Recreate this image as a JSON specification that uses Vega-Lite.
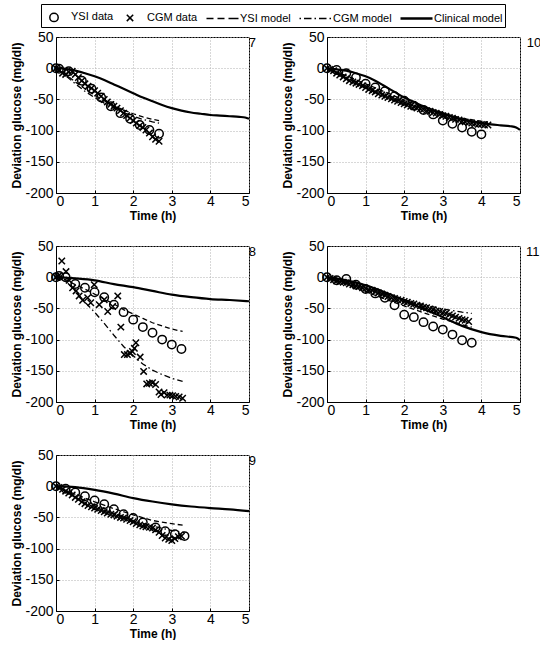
{
  "$schema": "https://vega.github.io/schema/vega-lite/v6.json",
  "padding": {"left": 10, "top": 3, "right": 0, "bottom": 0},
  "bounds": "flush",
  "columns": 2,
  "spacing": {"row": 53, "column": 78},
  "config": {
    "font": "Liberation Sans",
    "view": {"stroke": "black", "strokeWidth": 1},
    "axis": {
      "labelFontSize": 14, "labelColor": "black", "titleFontSize": 12, "titleFontWeight": "bold", "titleColor": "black",
      "gridColor": "#b0b0b0", "gridDash": [1, 2], "gridOpacity": 1, "domainColor": "black", "ticks": true, "tickSize": -3, "tickColor": "black", "labelPadding": 6,
      "labelFont": "Liberation Sans", "titleFont": "Liberation Sans", "labelOverlap": false, "labelBound": false
    },
    "axisY": {"titlePadding": 1},
    "axisX": {"titlePadding": 2, "labelPadding": 4},
    "point": {"opacity": 1},
    "title": {"font": "Liberation Sans", "fontSize": 13, "fontWeight": "normal", "color": "black"}
  },
  "datasets": {
    "d": [
      {"p":"7","s":"YSI data","t":0,"g":0},{"p":"7","s":"YSI data","t":0.08,"g":-1},{"p":"7","s":"YSI data","t":0.33,"g":-5},{"p":"7","s":"YSI data","t":0.67,"g":-20},{"p":"7","s":"YSI data","t":0.92,"g":-33},{"p":"7","s":"YSI data","t":1.17,"g":-47},{"p":"7","s":"YSI data","t":1.42,"g":-61},{"p":"7","s":"YSI data","t":1.67,"g":-72},{"p":"7","s":"YSI data","t":1.92,"g":-81},{"p":"7","s":"YSI data","t":2.17,"g":-91},{"p":"7","s":"YSI data","t":2.42,"g":-99},{"p":"7","s":"YSI data","t":2.67,"g":-105},
      {"p":"7","s":"CGM data","t":0,"g":0},{"p":"7","s":"CGM data","t":0.08,"g":-3},{"p":"7","s":"CGM data","t":0.17,"g":-8},{"p":"7","s":"CGM data","t":0.25,"g":-10},{"p":"7","s":"CGM data","t":0.33,"g":-6},{"p":"7","s":"CGM data","t":0.42,"g":-5},{"p":"7","s":"CGM data","t":0.5,"g":-10},{"p":"7","s":"CGM data","t":0.58,"g":-15},{"p":"7","s":"CGM data","t":0.67,"g":-20},{"p":"7","s":"CGM data","t":0.75,"g":-25},{"p":"7","s":"CGM data","t":0.83,"g":-29},{"p":"7","s":"CGM data","t":0.92,"g":-32},{"p":"7","s":"CGM data","t":1.0,"g":-36},{"p":"7","s":"CGM data","t":1.08,"g":-40},{"p":"7","s":"CGM data","t":1.17,"g":-45},{"p":"7","s":"CGM data","t":1.25,"g":-50},{"p":"7","s":"CGM data","t":1.33,"g":-54},{"p":"7","s":"CGM data","t":1.42,"g":-58},{"p":"7","s":"CGM data","t":1.5,"g":-61},{"p":"7","s":"CGM data","t":1.58,"g":-64},{"p":"7","s":"CGM data","t":1.67,"g":-68},{"p":"7","s":"CGM data","t":1.75,"g":-72},{"p":"7","s":"CGM data","t":1.83,"g":-76},{"p":"7","s":"CGM data","t":1.92,"g":-80},{"p":"7","s":"CGM data","t":2.0,"g":-84},{"p":"7","s":"CGM data","t":2.08,"g":-88},{"p":"7","s":"CGM data","t":2.17,"g":-92},{"p":"7","s":"CGM data","t":2.25,"g":-95},{"p":"7","s":"CGM data","t":2.33,"g":-99},{"p":"7","s":"CGM data","t":2.42,"g":-104},{"p":"7","s":"CGM data","t":2.5,"g":-110},{"p":"7","s":"CGM data","t":2.58,"g":-114},{"p":"7","s":"CGM data","t":2.67,"g":-117},
      {"p":"7","s":"YSI model","t":0,"g":0},{"p":"7","s":"YSI model","t":0.25,"g":-10},{"p":"7","s":"YSI model","t":0.5,"g":-22},{"p":"7","s":"YSI model","t":0.75,"g":-33},{"p":"7","s":"YSI model","t":1.0,"g":-43},{"p":"7","s":"YSI model","t":1.25,"g":-52},{"p":"7","s":"YSI model","t":1.5,"g":-60},{"p":"7","s":"YSI model","t":1.75,"g":-67},{"p":"7","s":"YSI model","t":2.0,"g":-73},{"p":"7","s":"YSI model","t":2.25,"g":-78},{"p":"7","s":"YSI model","t":2.5,"g":-82},{"p":"7","s":"YSI model","t":2.67,"g":-84},
      {"p":"7","s":"CGM model","t":0,"g":0},{"p":"7","s":"CGM model","t":0.25,"g":-12},{"p":"7","s":"CGM model","t":0.5,"g":-25},{"p":"7","s":"CGM model","t":0.75,"g":-37},{"p":"7","s":"CGM model","t":1.0,"g":-47},{"p":"7","s":"CGM model","t":1.25,"g":-56},{"p":"7","s":"CGM model","t":1.5,"g":-64},{"p":"7","s":"CGM model","t":1.75,"g":-71},{"p":"7","s":"CGM model","t":2.0,"g":-77},{"p":"7","s":"CGM model","t":2.25,"g":-82},{"p":"7","s":"CGM model","t":2.5,"g":-86},{"p":"7","s":"CGM model","t":2.67,"g":-88},
      {"p":"7","s":"Clinical model","t":0,"g":0},{"p":"7","s":"Clinical model","t":0.25,"g":-1},{"p":"7","s":"Clinical model","t":0.5,"g":-4},{"p":"7","s":"Clinical model","t":0.75,"g":-8},{"p":"7","s":"Clinical model","t":1.0,"g":-13},{"p":"7","s":"Clinical model","t":1.25,"g":-19},{"p":"7","s":"Clinical model","t":1.5,"g":-26},{"p":"7","s":"Clinical model","t":1.75,"g":-33},{"p":"7","s":"Clinical model","t":2.0,"g":-40},{"p":"7","s":"Clinical model","t":2.25,"g":-47},{"p":"7","s":"Clinical model","t":2.5,"g":-53},{"p":"7","s":"Clinical model","t":2.75,"g":-59},{"p":"7","s":"Clinical model","t":3.0,"g":-64},{"p":"7","s":"Clinical model","t":3.25,"g":-68},{"p":"7","s":"Clinical model","t":3.5,"g":-71},{"p":"7","s":"Clinical model","t":3.75,"g":-73},{"p":"7","s":"Clinical model","t":4.0,"g":-75},{"p":"7","s":"Clinical model","t":4.25,"g":-76},{"p":"7","s":"Clinical model","t":4.5,"g":-77},{"p":"7","s":"Clinical model","t":4.75,"g":-78},{"p":"7","s":"Clinical model","t":4.9,"g":-79},{"p":"7","s":"Clinical model","t":5.0,"g":-81},

      {"p":"10","s":"YSI data","t":0,"g":0},{"p":"10","s":"YSI data","t":0.25,"g":-3},{"p":"10","s":"YSI data","t":0.5,"g":-8},{"p":"10","s":"YSI data","t":0.75,"g":-15},{"p":"10","s":"YSI data","t":1.0,"g":-25},{"p":"10","s":"YSI data","t":1.25,"g":-31},{"p":"10","s":"YSI data","t":1.5,"g":-37},{"p":"10","s":"YSI data","t":1.75,"g":-45},{"p":"10","s":"YSI data","t":2.0,"g":-52},{"p":"10","s":"YSI data","t":2.25,"g":-60},{"p":"10","s":"YSI data","t":2.5,"g":-67},{"p":"10","s":"YSI data","t":2.75,"g":-74},{"p":"10","s":"YSI data","t":3.0,"g":-84},{"p":"10","s":"YSI data","t":3.25,"g":-89},{"p":"10","s":"YSI data","t":3.5,"g":-95},{"p":"10","s":"YSI data","t":3.75,"g":-102},{"p":"10","s":"YSI data","t":4.0,"g":-106},
      {"p":"10","s":"CGM data","t":0,"g":0},{"p":"10","s":"CGM data","t":0.08,"g":-2},{"p":"10","s":"CGM data","t":0.17,"g":-4},{"p":"10","s":"CGM data","t":0.25,"g":-8},{"p":"10","s":"CGM data","t":0.33,"g":-11},{"p":"10","s":"CGM data","t":0.42,"g":-14},{"p":"10","s":"CGM data","t":0.5,"g":-17},{"p":"10","s":"CGM data","t":0.58,"g":-20},{"p":"10","s":"CGM data","t":0.67,"g":-22},{"p":"10","s":"CGM data","t":0.75,"g":-24},{"p":"10","s":"CGM data","t":0.83,"g":-26},{"p":"10","s":"CGM data","t":0.92,"g":-28},{"p":"10","s":"CGM data","t":1.0,"g":-31},{"p":"10","s":"CGM data","t":1.08,"g":-34},{"p":"10","s":"CGM data","t":1.17,"g":-36},{"p":"10","s":"CGM data","t":1.25,"g":-38},{"p":"10","s":"CGM data","t":1.33,"g":-41},{"p":"10","s":"CGM data","t":1.42,"g":-43},{"p":"10","s":"CGM data","t":1.5,"g":-45},{"p":"10","s":"CGM data","t":1.58,"g":-47},{"p":"10","s":"CGM data","t":1.67,"g":-49},{"p":"10","s":"CGM data","t":1.75,"g":-51},{"p":"10","s":"CGM data","t":1.83,"g":-53},{"p":"10","s":"CGM data","t":1.92,"g":-55},{"p":"10","s":"CGM data","t":2.0,"g":-57},{"p":"10","s":"CGM data","t":2.08,"g":-59},{"p":"10","s":"CGM data","t":2.17,"g":-61},{"p":"10","s":"CGM data","t":2.25,"g":-62},{"p":"10","s":"CGM data","t":2.33,"g":-64},{"p":"10","s":"CGM data","t":2.42,"g":-65},{"p":"10","s":"CGM data","t":2.5,"g":-66},{"p":"10","s":"CGM data","t":2.58,"g":-68},{"p":"10","s":"CGM data","t":2.67,"g":-69},{"p":"10","s":"CGM data","t":2.75,"g":-71},{"p":"10","s":"CGM data","t":2.83,"g":-72},{"p":"10","s":"CGM data","t":2.92,"g":-74},{"p":"10","s":"CGM data","t":3.0,"g":-76},{"p":"10","s":"CGM data","t":3.08,"g":-77},{"p":"10","s":"CGM data","t":3.17,"g":-79},{"p":"10","s":"CGM data","t":3.25,"g":-80},{"p":"10","s":"CGM data","t":3.33,"g":-82},{"p":"10","s":"CGM data","t":3.42,"g":-83},{"p":"10","s":"CGM data","t":3.5,"g":-85},{"p":"10","s":"CGM data","t":3.58,"g":-86},{"p":"10","s":"CGM data","t":3.67,"g":-87},{"p":"10","s":"CGM data","t":3.75,"g":-88},{"p":"10","s":"CGM data","t":3.83,"g":-89},{"p":"10","s":"CGM data","t":3.92,"g":-90},{"p":"10","s":"CGM data","t":4.0,"g":-90},{"p":"10","s":"CGM data","t":4.08,"g":-91},{"p":"10","s":"CGM data","t":4.17,"g":-91},
      {"p":"10","s":"YSI model","t":0,"g":0},{"p":"10","s":"YSI model","t":0.5,"g":-12},{"p":"10","s":"YSI model","t":1.0,"g":-25},{"p":"10","s":"YSI model","t":1.5,"g":-38},{"p":"10","s":"YSI model","t":2.0,"g":-51},{"p":"10","s":"YSI model","t":2.5,"g":-63},{"p":"10","s":"YSI model","t":3.0,"g":-73},{"p":"10","s":"YSI model","t":3.5,"g":-80},{"p":"10","s":"YSI model","t":4.0,"g":-85},{"p":"10","s":"YSI model","t":4.17,"g":-86},
      {"p":"10","s":"CGM model","t":0,"g":0},{"p":"10","s":"CGM model","t":0.5,"g":-14},{"p":"10","s":"CGM model","t":1.0,"g":-28},{"p":"10","s":"CGM model","t":1.5,"g":-41},{"p":"10","s":"CGM model","t":2.0,"g":-54},{"p":"10","s":"CGM model","t":2.5,"g":-65},{"p":"10","s":"CGM model","t":3.0,"g":-75},{"p":"10","s":"CGM model","t":3.5,"g":-83},{"p":"10","s":"CGM model","t":4.0,"g":-88},{"p":"10","s":"CGM model","t":4.17,"g":-89},
      {"p":"10","s":"Clinical model","t":0,"g":0},{"p":"10","s":"Clinical model","t":0.25,"g":-2},{"p":"10","s":"Clinical model","t":0.5,"g":-4},{"p":"10","s":"Clinical model","t":0.75,"g":-8},{"p":"10","s":"Clinical model","t":1.0,"g":-13},{"p":"10","s":"Clinical model","t":1.25,"g":-20},{"p":"10","s":"Clinical model","t":1.5,"g":-29},{"p":"10","s":"Clinical model","t":1.75,"g":-38},{"p":"10","s":"Clinical model","t":2.0,"g":-47},{"p":"10","s":"Clinical model","t":2.25,"g":-54},{"p":"10","s":"Clinical model","t":2.5,"g":-61},{"p":"10","s":"Clinical model","t":2.75,"g":-67},{"p":"10","s":"Clinical model","t":3.0,"g":-72},{"p":"10","s":"Clinical model","t":3.25,"g":-77},{"p":"10","s":"Clinical model","t":3.5,"g":-82},{"p":"10","s":"Clinical model","t":3.75,"g":-85},{"p":"10","s":"Clinical model","t":4.0,"g":-88},{"p":"10","s":"Clinical model","t":4.25,"g":-90},{"p":"10","s":"Clinical model","t":4.5,"g":-91.5},{"p":"10","s":"Clinical model","t":4.75,"g":-93},{"p":"10","s":"Clinical model","t":4.9,"g":-95},{"p":"10","s":"Clinical model","t":5.0,"g":-99},

      {"p":"8","s":"YSI data","t":0,"g":0},{"p":"8","s":"YSI data","t":0.08,"g":2},{"p":"8","s":"YSI data","t":0.25,"g":0},{"p":"8","s":"YSI data","t":0.5,"g":-11},{"p":"8","s":"YSI data","t":0.75,"g":-17},{"p":"8","s":"YSI data","t":1.0,"g":-24},{"p":"8","s":"YSI data","t":1.25,"g":-32},{"p":"8","s":"YSI data","t":1.5,"g":-44},{"p":"8","s":"YSI data","t":1.75,"g":-56},{"p":"8","s":"YSI data","t":2.0,"g":-68},{"p":"8","s":"YSI data","t":2.25,"g":-80},{"p":"8","s":"YSI data","t":2.5,"g":-89},{"p":"8","s":"YSI data","t":2.75,"g":-100},{"p":"8","s":"YSI data","t":3.0,"g":-108},{"p":"8","s":"YSI data","t":3.25,"g":-115},
      {"p":"8","s":"CGM data","t":0,"g":0},{"p":"8","s":"CGM data","t":0.08,"g":3},{"p":"8","s":"CGM data","t":0.15,"g":26},{"p":"8","s":"CGM data","t":0.26,"g":9},{"p":"8","s":"CGM data","t":0.34,"g":-5},{"p":"8","s":"CGM data","t":0.43,"g":-17},{"p":"8","s":"CGM data","t":0.52,"g":-22},{"p":"8","s":"CGM data","t":0.6,"g":-30},{"p":"8","s":"CGM data","t":0.69,"g":-37},{"p":"8","s":"CGM data","t":0.82,"g":-33},{"p":"8","s":"CGM data","t":0.9,"g":-41},{"p":"8","s":"CGM data","t":0.99,"g":-12},{"p":"8","s":"CGM data","t":1.12,"g":-44},{"p":"8","s":"CGM data","t":1.25,"g":-36},{"p":"8","s":"CGM data","t":1.34,"g":-55},{"p":"8","s":"CGM data","t":1.47,"g":-47},{"p":"8","s":"CGM data","t":1.6,"g":-30},{"p":"8","s":"CGM data","t":1.68,"g":-80},{"p":"8","s":"CGM data","t":1.77,"g":-124},{"p":"8","s":"CGM data","t":1.85,"g":-124},{"p":"8","s":"CGM data","t":1.92,"g":-122},{"p":"8","s":"CGM data","t":1.98,"g":-119},{"p":"8","s":"CGM data","t":2.03,"g":-114},{"p":"8","s":"CGM data","t":2.07,"g":-105},{"p":"8","s":"CGM data","t":2.18,"g":-128},{"p":"8","s":"CGM data","t":2.27,"g":-151},{"p":"8","s":"CGM data","t":2.35,"g":-171},{"p":"8","s":"CGM data","t":2.42,"g":-170},{"p":"8","s":"CGM data","t":2.5,"g":-169},{"p":"8","s":"CGM data","t":2.58,"g":-172},{"p":"8","s":"CGM data","t":2.67,"g":-184},{"p":"8","s":"CGM data","t":2.72,"g":-188},{"p":"8","s":"CGM data","t":2.8,"g":-185},{"p":"8","s":"CGM data","t":2.88,"g":-189},{"p":"8","s":"CGM data","t":2.95,"g":-189},{"p":"8","s":"CGM data","t":3.02,"g":-190},{"p":"8","s":"CGM data","t":3.1,"g":-191},{"p":"8","s":"CGM data","t":3.19,"g":-192},{"p":"8","s":"CGM data","t":3.28,"g":-194},
      {"p":"8","s":"YSI model","t":0,"g":0},{"p":"8","s":"YSI model","t":0.25,"g":-4},{"p":"8","s":"YSI model","t":0.5,"g":-12},{"p":"8","s":"YSI model","t":0.75,"g":-19},{"p":"8","s":"YSI model","t":1.0,"g":-27},{"p":"8","s":"YSI model","t":1.25,"g":-35},{"p":"8","s":"YSI model","t":1.5,"g":-43},{"p":"8","s":"YSI model","t":1.75,"g":-52},{"p":"8","s":"YSI model","t":2.0,"g":-59},{"p":"8","s":"YSI model","t":2.25,"g":-66},{"p":"8","s":"YSI model","t":2.5,"g":-73},{"p":"8","s":"YSI model","t":2.75,"g":-78},{"p":"8","s":"YSI model","t":3.0,"g":-83},{"p":"8","s":"YSI model","t":3.28,"g":-87},
      {"p":"8","s":"CGM model","t":0,"g":0},{"p":"8","s":"CGM model","t":0.25,"g":-6},{"p":"8","s":"CGM model","t":0.5,"g":-22},{"p":"8","s":"CGM model","t":0.75,"g":-40},{"p":"8","s":"CGM model","t":1.0,"g":-56},{"p":"8","s":"CGM model","t":1.25,"g":-74},{"p":"8","s":"CGM model","t":1.5,"g":-93},{"p":"8","s":"CGM model","t":1.75,"g":-111},{"p":"8","s":"CGM model","t":2.0,"g":-126},{"p":"8","s":"CGM model","t":2.25,"g":-139},{"p":"8","s":"CGM model","t":2.5,"g":-149},{"p":"8","s":"CGM model","t":2.75,"g":-156},{"p":"8","s":"CGM model","t":3.0,"g":-162},{"p":"8","s":"CGM model","t":3.28,"g":-167},
      {"p":"8","s":"Clinical model","t":0,"g":0},{"p":"8","s":"Clinical model","t":0.5,"g":-2},{"p":"8","s":"Clinical model","t":1.0,"g":-5},{"p":"8","s":"Clinical model","t":1.5,"g":-11},{"p":"8","s":"Clinical model","t":2.0,"g":-16},{"p":"8","s":"Clinical model","t":2.5,"g":-22},{"p":"8","s":"Clinical model","t":3.0,"g":-28},{"p":"8","s":"Clinical model","t":3.5,"g":-32},{"p":"8","s":"Clinical model","t":4.0,"g":-35},{"p":"8","s":"Clinical model","t":4.5,"g":-36.5},{"p":"8","s":"Clinical model","t":5.0,"g":-38.5},

      {"p":"11","s":"YSI data","t":0,"g":0},{"p":"11","s":"YSI data","t":0.25,"g":-5},{"p":"11","s":"YSI data","t":0.5,"g":-3},{"p":"11","s":"YSI data","t":0.75,"g":-12},{"p":"11","s":"YSI data","t":1.0,"g":-19},{"p":"11","s":"YSI data","t":1.25,"g":-26},{"p":"11","s":"YSI data","t":1.5,"g":-33},{"p":"11","s":"YSI data","t":1.75,"g":-45},{"p":"11","s":"YSI data","t":2.0,"g":-60},{"p":"11","s":"YSI data","t":2.25,"g":-64},{"p":"11","s":"YSI data","t":2.5,"g":-72},{"p":"11","s":"YSI data","t":2.75,"g":-79},{"p":"11","s":"YSI data","t":3.0,"g":-84},{"p":"11","s":"YSI data","t":3.25,"g":-92},{"p":"11","s":"YSI data","t":3.5,"g":-101},{"p":"11","s":"YSI data","t":3.75,"g":-105},
      {"p":"11","s":"CGM data","t":0,"g":0},{"p":"11","s":"CGM data","t":0.08,"g":-2},{"p":"11","s":"CGM data","t":0.17,"g":-4},{"p":"11","s":"CGM data","t":0.25,"g":-6},{"p":"11","s":"CGM data","t":0.33,"g":-7},{"p":"11","s":"CGM data","t":0.42,"g":-8},{"p":"11","s":"CGM data","t":0.5,"g":-9},{"p":"11","s":"CGM data","t":0.58,"g":-11},{"p":"11","s":"CGM data","t":0.67,"g":-12},{"p":"11","s":"CGM data","t":0.75,"g":-14},{"p":"11","s":"CGM data","t":0.83,"g":-15},{"p":"11","s":"CGM data","t":0.92,"g":-17},{"p":"11","s":"CGM data","t":1.0,"g":-18},{"p":"11","s":"CGM data","t":1.08,"g":-20},{"p":"11","s":"CGM data","t":1.17,"g":-21},{"p":"11","s":"CGM data","t":1.25,"g":-23},{"p":"11","s":"CGM data","t":1.33,"g":-25},{"p":"11","s":"CGM data","t":1.42,"g":-27},{"p":"11","s":"CGM data","t":1.5,"g":-29},{"p":"11","s":"CGM data","t":1.58,"g":-31},{"p":"11","s":"CGM data","t":1.67,"g":-33},{"p":"11","s":"CGM data","t":1.75,"g":-34},{"p":"11","s":"CGM data","t":1.83,"g":-36},{"p":"11","s":"CGM data","t":1.92,"g":-37},{"p":"11","s":"CGM data","t":2.0,"g":-39},{"p":"11","s":"CGM data","t":2.08,"g":-40},{"p":"11","s":"CGM data","t":2.17,"g":-42},{"p":"11","s":"CGM data","t":2.25,"g":-43},{"p":"11","s":"CGM data","t":2.33,"g":-45},{"p":"11","s":"CGM data","t":2.42,"g":-46},{"p":"11","s":"CGM data","t":2.5,"g":-48},{"p":"11","s":"CGM data","t":2.58,"g":-49},{"p":"11","s":"CGM data","t":2.67,"g":-51},{"p":"11","s":"CGM data","t":2.75,"g":-52},{"p":"11","s":"CGM data","t":2.83,"g":-54},{"p":"11","s":"CGM data","t":2.92,"g":-55},{"p":"11","s":"CGM data","t":3.0,"g":-57},{"p":"11","s":"CGM data","t":3.08,"g":-58},{"p":"11","s":"CGM data","t":3.17,"g":-60},{"p":"11","s":"CGM data","t":3.25,"g":-62},{"p":"11","s":"CGM data","t":3.33,"g":-64},{"p":"11","s":"CGM data","t":3.42,"g":-66},{"p":"11","s":"CGM data","t":3.5,"g":-68},{"p":"11","s":"CGM data","t":3.58,"g":-69},{"p":"11","s":"CGM data","t":3.67,"g":-71},
      {"p":"11","s":"YSI model","t":0,"g":0},{"p":"11","s":"YSI model","t":0.5,"g":-11},{"p":"11","s":"YSI model","t":1.0,"g":-23},{"p":"11","s":"YSI model","t":1.5,"g":-35},{"p":"11","s":"YSI model","t":2.0,"g":-46},{"p":"11","s":"YSI model","t":2.5,"g":-57},{"p":"11","s":"YSI model","t":3.0,"g":-67},{"p":"11","s":"YSI model","t":3.5,"g":-76},{"p":"11","s":"YSI model","t":3.75,"g":-80},
      {"p":"11","s":"CGM model","t":0,"g":0},{"p":"11","s":"CGM model","t":0.5,"g":-9},{"p":"11","s":"CGM model","t":1.0,"g":-18},{"p":"11","s":"CGM model","t":1.5,"g":-27},{"p":"11","s":"CGM model","t":2.0,"g":-36},{"p":"11","s":"CGM model","t":2.5,"g":-44},{"p":"11","s":"CGM model","t":3.0,"g":-51},{"p":"11","s":"CGM model","t":3.5,"g":-56},{"p":"11","s":"CGM model","t":3.75,"g":-58},
      {"p":"11","s":"Clinical model","t":0,"g":0},{"p":"11","s":"Clinical model","t":0.5,"g":-5},{"p":"11","s":"Clinical model","t":1.0,"g":-13},{"p":"11","s":"Clinical model","t":1.5,"g":-24},{"p":"11","s":"Clinical model","t":2.0,"g":-37},{"p":"11","s":"Clinical model","t":2.5,"g":-51},{"p":"11","s":"Clinical model","t":3.0,"g":-64},{"p":"11","s":"Clinical model","t":3.5,"g":-78},{"p":"11","s":"Clinical model","t":4.0,"g":-88},{"p":"11","s":"Clinical model","t":4.5,"g":-94},{"p":"11","s":"Clinical model","t":4.9,"g":-97},{"p":"11","s":"Clinical model","t":5.0,"g":-101},

      {"p":"9","s":"YSI data","t":0,"g":0},{"p":"9","s":"YSI data","t":0.25,"g":-4},{"p":"9","s":"YSI data","t":0.5,"g":-10},{"p":"9","s":"YSI data","t":0.75,"g":-16},{"p":"9","s":"YSI data","t":1.0,"g":-23},{"p":"9","s":"YSI data","t":1.25,"g":-29},{"p":"9","s":"YSI data","t":1.5,"g":-37},{"p":"9","s":"YSI data","t":1.75,"g":-45},{"p":"9","s":"YSI data","t":2.0,"g":-51},{"p":"9","s":"YSI data","t":2.25,"g":-58},{"p":"9","s":"YSI data","t":2.58,"g":-66},{"p":"9","s":"YSI data","t":2.83,"g":-72},{"p":"9","s":"YSI data","t":3.08,"g":-77},{"p":"9","s":"YSI data","t":3.33,"g":-80},
      {"p":"9","s":"CGM data","t":0,"g":0},{"p":"9","s":"CGM data","t":0.08,"g":-2},{"p":"9","s":"CGM data","t":0.17,"g":-5},{"p":"9","s":"CGM data","t":0.25,"g":-8},{"p":"9","s":"CGM data","t":0.33,"g":-11},{"p":"9","s":"CGM data","t":0.42,"g":-14},{"p":"9","s":"CGM data","t":0.5,"g":-18},{"p":"9","s":"CGM data","t":0.58,"g":-21},{"p":"9","s":"CGM data","t":0.67,"g":-25},{"p":"9","s":"CGM data","t":0.75,"g":-28},{"p":"9","s":"CGM data","t":0.83,"g":-31},{"p":"9","s":"CGM data","t":0.92,"g":-33},{"p":"9","s":"CGM data","t":1.0,"g":-35},{"p":"9","s":"CGM data","t":1.08,"g":-37},{"p":"9","s":"CGM data","t":1.17,"g":-39},{"p":"9","s":"CGM data","t":1.25,"g":-41},{"p":"9","s":"CGM data","t":1.33,"g":-43},{"p":"9","s":"CGM data","t":1.42,"g":-45},{"p":"9","s":"CGM data","t":1.5,"g":-46},{"p":"9","s":"CGM data","t":1.58,"g":-48},{"p":"9","s":"CGM data","t":1.67,"g":-50},{"p":"9","s":"CGM data","t":1.75,"g":-51},{"p":"9","s":"CGM data","t":1.83,"g":-53},{"p":"9","s":"CGM data","t":1.92,"g":-55},{"p":"9","s":"CGM data","t":2.0,"g":-57},{"p":"9","s":"CGM data","t":2.08,"g":-60},{"p":"9","s":"CGM data","t":2.17,"g":-62},{"p":"9","s":"CGM data","t":2.25,"g":-64},{"p":"9","s":"CGM data","t":2.33,"g":-65},{"p":"9","s":"CGM data","t":2.42,"g":-66},{"p":"9","s":"CGM data","t":2.5,"g":-67},{"p":"9","s":"CGM data","t":2.58,"g":-70},{"p":"9","s":"CGM data","t":2.67,"g":-74},{"p":"9","s":"CGM data","t":2.75,"g":-79},{"p":"9","s":"CGM data","t":2.83,"g":-83},{"p":"9","s":"CGM data","t":2.92,"g":-85},{"p":"9","s":"CGM data","t":3.0,"g":-87},{"p":"9","s":"CGM data","t":3.08,"g":-84},{"p":"9","s":"CGM data","t":3.17,"g":-81},{"p":"9","s":"CGM data","t":3.25,"g":-80},
      {"p":"9","s":"YSI model","t":0,"g":0},{"p":"9","s":"YSI model","t":0.5,"g":-13},{"p":"9","s":"YSI model","t":1.0,"g":-25},{"p":"9","s":"YSI model","t":1.5,"g":-36},{"p":"9","s":"YSI model","t":2.0,"g":-46},{"p":"9","s":"YSI model","t":2.5,"g":-55},{"p":"9","s":"YSI model","t":3.0,"g":-60},{"p":"9","s":"YSI model","t":3.33,"g":-63},
      {"p":"9","s":"CGM model","t":0,"g":0},{"p":"9","s":"CGM model","t":0.5,"g":-16},{"p":"9","s":"CGM model","t":1.0,"g":-31},{"p":"9","s":"CGM model","t":1.5,"g":-44},{"p":"9","s":"CGM model","t":2.0,"g":-55},{"p":"9","s":"CGM model","t":2.5,"g":-64},{"p":"9","s":"CGM model","t":3.0,"g":-71},{"p":"9","s":"CGM model","t":3.33,"g":-74},
      {"p":"9","s":"Clinical model","t":0,"g":0},{"p":"9","s":"Clinical model","t":0.5,"g":-1.5},{"p":"9","s":"Clinical model","t":1.0,"g":-6},{"p":"9","s":"Clinical model","t":1.5,"g":-12},{"p":"9","s":"Clinical model","t":2.0,"g":-19},{"p":"9","s":"Clinical model","t":2.5,"g":-24.5},{"p":"9","s":"Clinical model","t":3.0,"g":-29},{"p":"9","s":"Clinical model","t":3.5,"g":-32.5},{"p":"9","s":"Clinical model","t":4.0,"g":-35},{"p":"9","s":"Clinical model","t":4.5,"g":-37},{"p":"9","s":"Clinical model","t":5.0,"g":-40}
    ]
  },
  "data": {"name": "d"},
  "concat": [
    {
      "width": 193, "height": 156,
      "title": {"text": "7", "orient": "right", "anchor": "start", "angle": 0, "align": "left", "baseline": "top", "offset": -12, "frame": "group"},
      "transform": [{"filter": "datum.p == '7'"}],
      "encoding": {
        "x": {"field": "t", "type": "quantitative", "scale": {"domain": [0, 5], "nice": false}, "axis": {"title": "Time (h)", "values": [0, 1, 2, 3, 4, 5], "labelExpr": "'' + datum.value"}},
        "y": {"field": "g", "type": "quantitative", "scale": {"domain": [-200, 50], "nice": false}, "axis": {"title": "Deviation glucose (mg/dl)", "values": [-200, -150, -100, -50, 0, 50], "labelExpr": "'' + datum.value"}}
      },
      "layer": [
        {"transform": [{"filter": "datum.s == 'YSI data' || datum.s == 'CGM data'"}],
         "mark": {"type": "point", "filled": false, "color": "black", "strokeWidth": 1.5, "size": 400, "opacity": 1},
         "encoding": {
           "shape": {"field": "s", "type": "nominal",
             "scale": {"domain": ["YSI data", "CGM data", "YSI model", "CGM model", "Clinical model"],
                       "range": ["M0.42,0A0.42,0.42,0,1,1,-0.42,0A0.42,0.42,0,1,1,0.42,0Z", "M-0.32,-0.32L0.32,0.32M-0.32,0.32L0.32,-0.32", "M-1.65,0L-0.95,0M-0.55,0L0.15,0M0.55,0L1.55,0", "M-1.65,0L-1.5,0M-1.2,0L-0.45,0M-0.15,0L0,0M0.3,0L1.05,0M1.35,0L1.5,0", "M-1.65,-0.06L1.55,-0.06M-1.65,0.06L1.55,0.06"]},
             "legend": {"title": null, "orient": "none", "legendX": -15, "legendY": -33, "direction": "horizontal", "strokeColor": "black", "fillColor": "white", "padding": 2, "labelFontSize": 11, "labelFont": "Liberation Sans", "labelColor": "black", "symbolStrokeColor": "black", "symbolFillColor": "transparent", "symbolStrokeWidth": 1.5, "symbolSize": 400, "columnPadding": 5, "labelOffset": 6}}
         }},
        {"transform": [{"filter": "datum.s == 'YSI model'"}], "mark": {"type": "line", "color": "black", "strokeWidth": 1.3, "strokeDash": [5, 3]}},
        {"transform": [{"filter": "datum.s == 'CGM model'"}], "mark": {"type": "line", "color": "black", "strokeWidth": 1.3, "strokeDash": [6, 3, 1.5, 3]}},
        {"transform": [{"filter": "datum.s == 'Clinical model'"}], "mark": {"type": "line", "color": "black", "strokeWidth": 2.2, "interpolate": "monotone"}}
      ]
    },
    {
      "width": 193, "height": 156,
      "title": {"text": "10", "orient": "right", "anchor": "start", "angle": 0, "align": "left", "baseline": "top", "offset": -12, "frame": "group"},
      "transform": [{"filter": "datum.p == '10'"}],
      "encoding": {
        "x": {"field": "t", "type": "quantitative", "scale": {"domain": [0, 5], "nice": false}, "axis": {"title": "Time (h)", "values": [0, 1, 2, 3, 4, 5], "labelExpr": "'' + datum.value"}},
        "y": {"field": "g", "type": "quantitative", "scale": {"domain": [-200, 50], "nice": false}, "axis": {"title": "Deviation glucose (mg/dl)", "values": [-200, -150, -100, -50, 0, 50], "labelExpr": "'' + datum.value"}}
      },
      "layer": [
        {"transform": [{"filter": "datum.s == 'YSI data' || datum.s == 'CGM data'"}],
         "mark": {"type": "point", "filled": false, "color": "black", "strokeWidth": 1.5, "size": 400, "opacity": 1},
         "encoding": {"shape": {"field": "s", "type": "nominal"}}},
        {"transform": [{"filter": "datum.s == 'YSI model'"}], "mark": {"type": "line", "color": "black", "strokeWidth": 1.3, "strokeDash": [5, 3]}},
        {"transform": [{"filter": "datum.s == 'CGM model'"}], "mark": {"type": "line", "color": "black", "strokeWidth": 1.3, "strokeDash": [6, 3, 1.5, 3]}},
        {"transform": [{"filter": "datum.s == 'Clinical model'"}], "mark": {"type": "line", "color": "black", "strokeWidth": 2.2, "interpolate": "monotone"}}
      ]
    },
    {
      "width": 193, "height": 156,
      "title": {"text": "8", "orient": "right", "anchor": "start", "angle": 0, "align": "left", "baseline": "top", "offset": -12, "frame": "group"},
      "transform": [{"filter": "datum.p == '8'"}],
      "encoding": {
        "x": {"field": "t", "type": "quantitative", "scale": {"domain": [0, 5], "nice": false}, "axis": {"title": "Time (h)", "values": [0, 1, 2, 3, 4, 5], "labelExpr": "'' + datum.value"}},
        "y": {"field": "g", "type": "quantitative", "scale": {"domain": [-200, 50], "nice": false}, "axis": {"title": "Deviation glucose (mg/dl)", "values": [-200, -150, -100, -50, 0, 50], "labelExpr": "'' + datum.value"}}
      },
      "layer": [
        {"transform": [{"filter": "datum.s == 'YSI data' || datum.s == 'CGM data'"}],
         "mark": {"type": "point", "filled": false, "color": "black", "strokeWidth": 1.5, "size": 400, "opacity": 1},
         "encoding": {"shape": {"field": "s", "type": "nominal"}}},
        {"transform": [{"filter": "datum.s == 'YSI model'"}], "mark": {"type": "line", "color": "black", "strokeWidth": 1.3, "strokeDash": [5, 3]}},
        {"transform": [{"filter": "datum.s == 'CGM model'"}], "mark": {"type": "line", "color": "black", "strokeWidth": 1.3, "strokeDash": [6, 3, 1.5, 3]}},
        {"transform": [{"filter": "datum.s == 'Clinical model'"}], "mark": {"type": "line", "color": "black", "strokeWidth": 2.2, "interpolate": "monotone"}}
      ]
    },
    {
      "width": 193, "height": 156,
      "title": {"text": "11", "orient": "right", "anchor": "start", "angle": 0, "align": "left", "baseline": "top", "offset": -12, "frame": "group"},
      "transform": [{"filter": "datum.p == '11'"}],
      "encoding": {
        "x": {"field": "t", "type": "quantitative", "scale": {"domain": [0, 5], "nice": false}, "axis": {"title": "Time (h)", "values": [0, 1, 2, 3, 4, 5], "labelExpr": "'' + datum.value"}},
        "y": {"field": "g", "type": "quantitative", "scale": {"domain": [-200, 50], "nice": false}, "axis": {"title": "Deviation glucose (mg/dl)", "values": [-200, -150, -100, -50, 0, 50], "labelExpr": "'' + datum.value"}}
      },
      "layer": [
        {"transform": [{"filter": "datum.s == 'YSI data' || datum.s == 'CGM data'"}],
         "mark": {"type": "point", "filled": false, "color": "black", "strokeWidth": 1.5, "size": 400, "opacity": 1},
         "encoding": {"shape": {"field": "s", "type": "nominal"}}},
        {"transform": [{"filter": "datum.s == 'YSI model'"}], "mark": {"type": "line", "color": "black", "strokeWidth": 1.3, "strokeDash": [5, 3]}},
        {"transform": [{"filter": "datum.s == 'CGM model'"}], "mark": {"type": "line", "color": "black", "strokeWidth": 1.3, "strokeDash": [6, 3, 1.5, 3]}},
        {"transform": [{"filter": "datum.s == 'Clinical model'"}], "mark": {"type": "line", "color": "black", "strokeWidth": 2.2, "interpolate": "monotone"}}
      ]
    },
    {
      "width": 193, "height": 156,
      "title": {"text": "9", "orient": "right", "anchor": "start", "angle": 0, "align": "left", "baseline": "top", "offset": -12, "frame": "group"},
      "transform": [{"filter": "datum.p == '9'"}],
      "encoding": {
        "x": {"field": "t", "type": "quantitative", "scale": {"domain": [0, 5], "nice": false}, "axis": {"title": "Time (h)", "values": [0, 1, 2, 3, 4, 5], "labelExpr": "'' + datum.value"}},
        "y": {"field": "g", "type": "quantitative", "scale": {"domain": [-200, 50], "nice": false}, "axis": {"title": "Deviation glucose (mg/dl)", "values": [-200, -150, -100, -50, 0, 50], "labelExpr": "'' + datum.value"}}
      },
      "layer": [
        {"transform": [{"filter": "datum.s == 'YSI data' || datum.s == 'CGM data'"}],
         "mark": {"type": "point", "filled": false, "color": "black", "strokeWidth": 1.5, "size": 400, "opacity": 1},
         "encoding": {"shape": {"field": "s", "type": "nominal"}}},
        {"transform": [{"filter": "datum.s == 'YSI model'"}], "mark": {"type": "line", "color": "black", "strokeWidth": 1.3, "strokeDash": [5, 3]}},
        {"transform": [{"filter": "datum.s == 'CGM model'"}], "mark": {"type": "line", "color": "black", "strokeWidth": 1.3, "strokeDash": [6, 3, 1.5, 3]}},
        {"transform": [{"filter": "datum.s == 'Clinical model'"}], "mark": {"type": "line", "color": "black", "strokeWidth": 2.2, "interpolate": "monotone"}}
      ]
    }
  ]
}
